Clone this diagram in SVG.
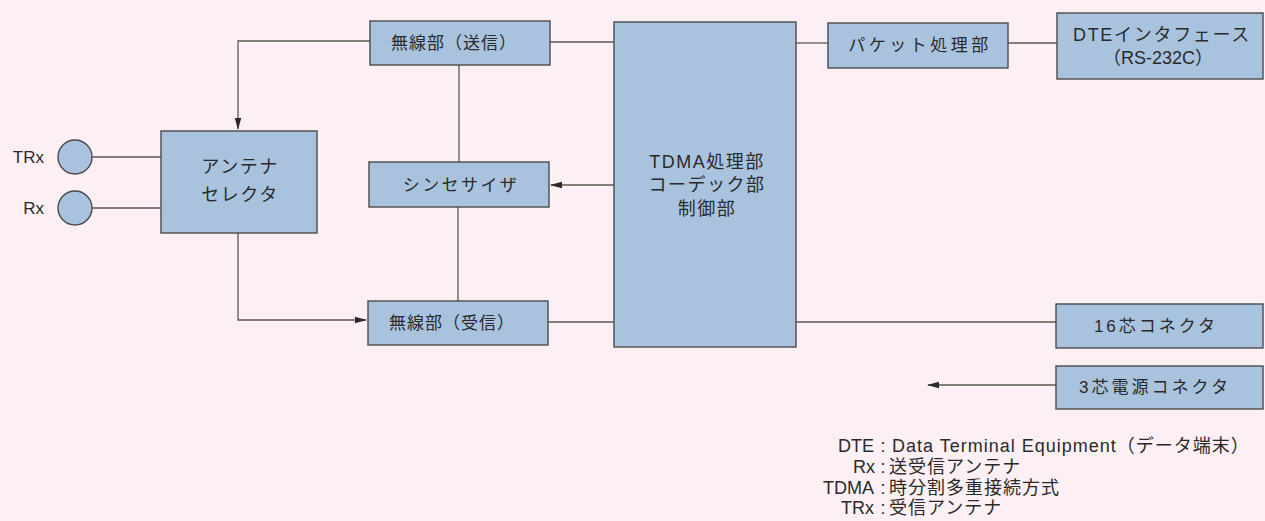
<svg xmlns="http://www.w3.org/2000/svg" width="1265" height="521" viewBox="0 0 1265 521">
<style>
.bg{fill:#fcf0f4}
.box{fill:#a9c3df;stroke:#4a4a4a;stroke-width:1.4}
.t{font-family:"Liberation Sans","Noto Sans CJK JP",sans-serif;font-size:17px;fill:#2a2a2a;text-anchor:middle;dominant-baseline:central}
.tb{font-size:18px;letter-spacing:1.5px}
.lg{font-family:"Liberation Sans","Noto Sans CJK JP",sans-serif;font-size:18px;fill:#2a2a2a;dominant-baseline:central}
.c{fill:none;stroke:#5a5a50;stroke-width:1.3}
</style>
<defs>
<marker id="ah" markerWidth="12" markerHeight="8" refX="11" refY="4" orient="auto" markerUnits="userSpaceOnUse">
<path d="M0,0.8 L12,4 L0,7.2 Z" fill="#2a2a2a"/>
</marker>
</defs>
<rect class="bg" x="0" y="0" width="1265" height="521"/>

<g id="connectors">
<path class="c" d="M370,41 H238 V129" marker-end="url(#ah)"/>
<path class="c" d="M92,157 H161"/>
<path class="c" d="M92,208 H161"/>
<path class="c" d="M238,233 V320 H366" marker-end="url(#ah)"/>
<path class="c" d="M459,65 V162"/>
<path class="c" d="M458,207 V301"/>
<path class="c" d="M550,42 H614"/>
<path class="c" d="M614,185 H551" marker-end="url(#ah)"/>
<path class="c" d="M548,322 H614"/>
<path class="c" d="M796,43 H828"/>
<path class="c" d="M1008,43 H1057"/>
<path class="c" d="M796,322 H1056"/>
<path class="c" d="M1056,385 H928" marker-end="url(#ah)"/>
</g>

<g id="trx">
<circle class="box" cx="75" cy="157" r="17"/>
<text class="t" x="44" y="157" style="text-anchor:end">TRx</text>
</g>
<g id="rx">
<circle class="box" cx="75" cy="208" r="17"/>
<text class="t" x="44" y="208" style="text-anchor:end">Rx</text>
</g>
<g id="antenna-selector">
<rect class="box" x="161" y="131" width="156" height="102"/>
<text class="t tb" x="240" y="167">アンテナ</text>
<text class="t tb" x="240" y="195">セレクタ</text>
</g>
<g id="radio-tx">
<rect class="box" x="370" y="21" width="180" height="44"/>
<text class="t" x="454" y="43" style="letter-spacing:1px">無線部（送信）</text>
</g>
<g id="synthesizer">
<rect class="box" x="369" y="162" width="180" height="45"/>
<text class="t" x="461" y="185" style="letter-spacing:2.4px">シンセサイザ</text>
</g>
<g id="radio-rx">
<rect class="box" x="368" y="301" width="180" height="44"/>
<text class="t" x="452" y="323" style="letter-spacing:1px">無線部（受信）</text>
</g>
<g id="tdma">
<rect class="box" x="614" y="22" width="182" height="325"/>
<text class="t tb" x="707" y="162">TDMA処理部</text>
<text class="t tb" x="707" y="185">コーデック部</text>
<text class="t tb" x="707" y="209">制御部</text>
</g>
<g id="packet">
<rect class="box" x="828" y="23" width="180" height="45"/>
<text class="t" x="920" y="45" style="letter-spacing:3.5px">パケット処理部</text>
</g>
<g id="dte">
<rect class="box" x="1057" y="13" width="206" height="66"/>
<text class="t" x="1162" y="35" style="font-size:18px;letter-spacing:1.7px">DTEインタフェース</text>
<text class="t" x="1158" y="58" style="font-size:18px">（RS-232C）</text>
</g>
<g id="conn16">
<rect class="box" x="1056" y="304" width="207" height="44"/>
<text class="t" x="1156" y="326" style="letter-spacing:3px">16芯コネクタ</text>
</g>
<g id="conn3">
<rect class="box" x="1056" y="366" width="207" height="43"/>
<text class="t" x="1155" y="387" style="letter-spacing:3px">3芯電源コネクタ</text>
</g>

<g id="legend">
<text class="lg" y="446"><tspan x="874" text-anchor="end">DTE</tspan><tspan x="883" text-anchor="middle">:</tspan><tspan x="892" style="letter-spacing:1px">Data Terminal Equipment（データ端末）</tspan></text>
<text class="lg" y="467"><tspan x="875" text-anchor="end">Rx</tspan><tspan x="883" text-anchor="middle">:</tspan><tspan x="889" style="letter-spacing:1px">送受信アンテナ</tspan></text>
<text class="lg" y="488"><tspan x="874" text-anchor="end">TDMA</tspan><tspan x="883" text-anchor="middle">:</tspan><tspan x="889" style="letter-spacing:1px">時分割多重接続方式</tspan></text>
<text class="lg" y="508"><tspan x="874" text-anchor="end">TRx</tspan><tspan x="883" text-anchor="middle">:</tspan><tspan x="889" style="letter-spacing:1px">受信アンテナ</tspan></text>
</g>
</svg>
